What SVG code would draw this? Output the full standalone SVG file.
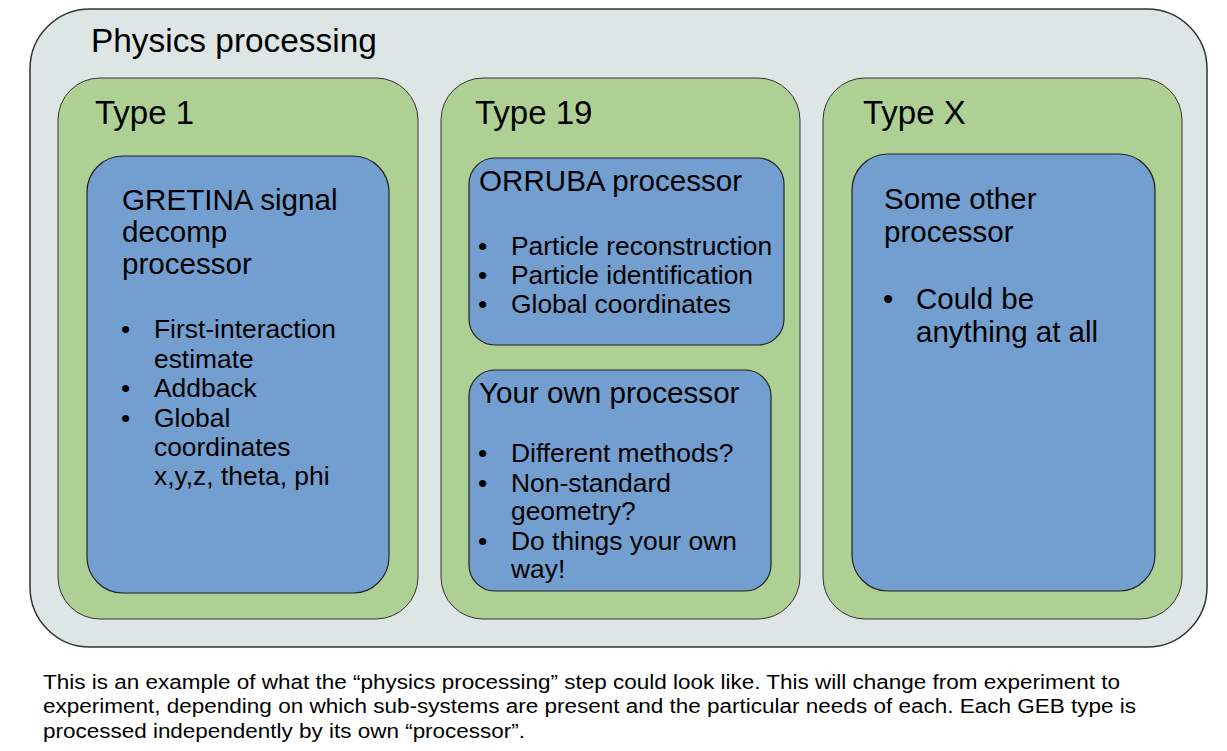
<svg xmlns="http://www.w3.org/2000/svg" width="1227" height="751" viewBox="0 0 1227 751">
<style>
text{font-family:"Liberation Sans",Arial,sans-serif;fill:#000}
.outer{fill:#dee6e5;stroke:#333;stroke-width:1.5}
.type{fill:#afd095;stroke:#333;stroke-width:1}
.proc{fill:#729fcf;stroke:#222;stroke-width:1.2}
.t32{font-size:33px}
.h{font-size:29.6px}
.b{font-size:26.4px}
.bx{font-size:29.5px}
.f{font-size:20px}
</style>
<rect width="1227" height="751" fill="#fff"/>
<g id="physics-processing">
<rect class="outer" x="30" y="9" width="1177" height="638" rx="60" ry="60"/>
<text x="91" y="52" style="font-size:33.4px">Physics processing</text>
</g>
<g id="type1">
<rect class="type" x="58" y="78" width="360" height="541" rx="42" ry="42"/>
<text class="t32" x="95" y="124">Type 1</text>
</g>
<g id="gretina">
<rect class="proc" x="87" y="156" width="302" height="437" rx="36" ry="36"/>
<text class="h" x="122" y="210">GRETINA signal</text>
<text class="h" x="122" y="242">decomp</text>
<text class="h" x="122" y="274">processor</text>
<text class="b" x="121" y="338">•</text><text class="b" x="154" y="338">First-interaction</text>
<text class="b" x="154" y="368">estimate</text>
<text class="b" x="121" y="397">•</text><text class="b" x="154" y="397">Addback</text>
<text class="b" x="121" y="427">•</text><text class="b" x="154" y="427">Global</text>
<text class="b" x="154" y="456">coordinates</text>
<text class="b" x="154" y="485">x,y,z, theta, phi</text>
</g>
<g id="type19">
<rect class="type" x="441" y="78" width="359" height="541" rx="42" ry="42"/>
<text class="t32" x="475" y="124">Type 19</text>
</g>
<g id="orruba">
<rect class="proc" x="469" y="158" width="315" height="187" rx="26" ry="26"/>
<text class="h" x="479" y="191">ORRUBA processor</text>
<text class="b" x="478" y="255">•</text><text class="b" x="511" y="255">Particle reconstruction</text>
<text class="b" x="478" y="284">•</text><text class="b" x="511" y="284">Particle identification</text>
<text class="b" x="478" y="313">•</text><text class="b" x="511" y="313">Global coordinates</text>
</g>
<g id="your-own">
<rect class="proc" x="469" y="370" width="302" height="221" rx="26" ry="26"/>
<text class="h" x="479" y="403">Your own processor</text>
<text class="b" x="478" y="462">•</text><text class="b" x="511" y="462">Different methods?</text>
<text class="b" x="478" y="492">•</text><text class="b" x="511" y="492">Non-standard</text>
<text class="b" x="511" y="520">geometry?</text>
<text class="b" x="478" y="550">•</text><text class="b" x="511" y="550">Do things your own</text>
<text class="b" x="511" y="578">way!</text>
</g>
<g id="typeX">
<rect class="type" x="823" y="78" width="359" height="541" rx="42" ry="42"/>
<text class="t32" x="863" y="124">Type X</text>
</g>
<g id="other">
<rect class="proc" x="852" y="154" width="303" height="437" rx="36" ry="36"/>
<text class="bx" x="884" y="209">Some other</text>
<text class="bx" x="884" y="242">processor</text>
<text class="bx" x="883" y="309">•</text><text class="bx" x="916" y="309">Could be</text>
<text class="bx" x="916" y="342">anything at all</text>
</g>
<g id="connectors"></g>
<g id="caption">
<text class="f" x="43" y="689" textLength="1077" lengthAdjust="spacingAndGlyphs">This is an example of what the “physics processing” step could look like. This will change from experiment to</text>
<text class="f" x="43" y="713" textLength="1093" lengthAdjust="spacingAndGlyphs">experiment, depending on which sub-systems are present and the particular needs of each. Each GEB type is</text>
<text class="f" x="43" y="738" textLength="482" lengthAdjust="spacingAndGlyphs">processed independently by its own “processor”.</text>
</g>
</svg>
